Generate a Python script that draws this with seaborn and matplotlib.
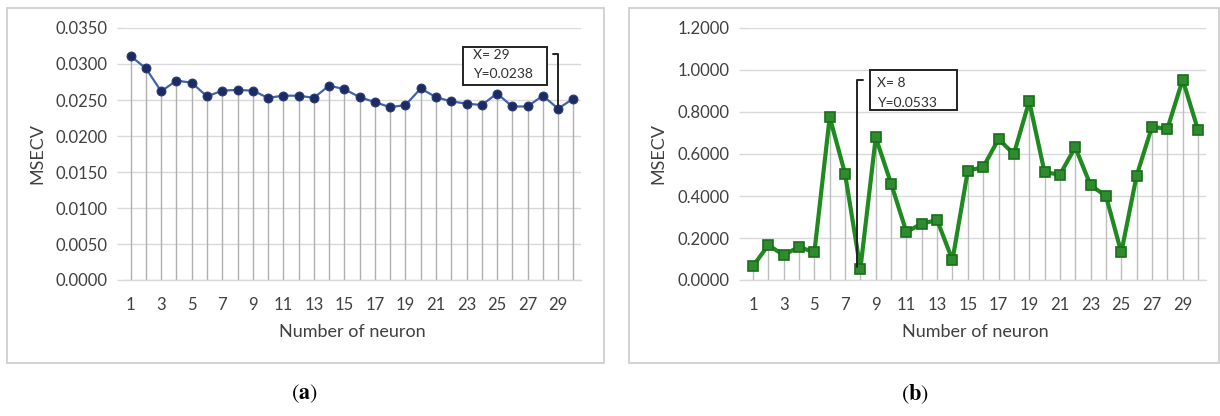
import numpy as np
import pandas as pd
import matplotlib
matplotlib.use("Agg")
import matplotlib.pyplot as plt
from matplotlib.patches import Rectangle
from matplotlib.ticker import FormatStrFormatter, MultipleLocator
import seaborn as sns

# Number of hidden neurons tested
neurons = list(range(1, 31))

# Cross-validated mean squared error, first network
msecv_a = [0.0311, 0.0294, 0.0262, 0.0277, 0.0274, 0.0255, 0.0263, 0.0264, 0.0263, 0.0253,
           0.0256, 0.0256, 0.0253, 0.0270, 0.0265, 0.0254, 0.0247, 0.0240, 0.0243, 0.0266,
           0.0254, 0.0248, 0.0245, 0.0243, 0.0259, 0.0241, 0.0241, 0.0256, 0.0238, 0.0252]

# Cross-validated mean squared error, second network
msecv_b = [0.066, 0.166, 0.119, 0.158, 0.131, 0.776, 0.506, 0.0533, 0.679, 0.459,
           0.228, 0.269, 0.285, 0.095, 0.521, 0.537, 0.671, 0.600, 0.851, 0.513,
           0.502, 0.632, 0.451, 0.400, 0.131, 0.497, 0.730, 0.719, 0.954, 0.714]

xtick_labels = [str(n) for n in range(1, 31, 2)]

# Best configuration highlighted in each panel
best_a = (29, 0.0238)
best_b = (8, 0.0533)

sns.set_theme(style="white")
plt.rcParams["font.family"] = ["Lato", "DejaVu Sans"]
plt.rcParams["mathtext.fontset"] = "stix"

W, H = 1220, 416
fig = plt.figure(figsize=(W / 100, H / 100), dpi=100)
fig.patch.set_facecolor("white")

TXT = "#404040"
GRID = "#D9D9D9"


def px_axes(x0, x1, y_top, y_bot):
    return fig.add_axes([x0 / W, 1 - y_bot / H, (x1 - x0) / W, (y_bot - y_top) / H])


def frame(x0, x1, y0, y1):
    fig.add_artist(Rectangle((x0 / W, 1 - y1 / H), (x1 - x0) / W, (y1 - y0) / H,
                             transform=fig.transFigure, fill=False,
                             edgecolor="#CFCFCF", linewidth=1.3))


def style_axes(ax, ymax, ystep, ylabel_pad):
    ax.set_xlim(0.5, 30.5)
    ax.set_ylim(0, ymax)
    ax.yaxis.set_major_locator(MultipleLocator(ystep))
    ax.yaxis.set_major_formatter(FormatStrFormatter("%.4f"))
    ax.set_xticks(range(1, 31, 2))
    ax.set_xticklabels(xtick_labels)
    ax.grid(axis="y", color=GRID, linewidth=1.0)
    ax.grid(axis="x", visible=False)
    ax.set_axisbelow(True)
    for s in ["top", "right", "left"]:
        ax.spines[s].set_visible(False)
    ax.spines["bottom"].set_color(GRID)
    ax.spines["bottom"].set_linewidth(1.0)
    ax.tick_params(axis="y", length=4, color=GRID, width=1.0, pad=7.5,
                   labelsize=12, labelcolor=TXT, left=True)
    ax.tick_params(axis="x", length=0, pad=12.5, labelsize=12, labelcolor=TXT)
    ax.set_xlabel("Number of neuron", fontsize=13, color=TXT, labelpad=8)
    ax.set_ylabel("MSECV", fontsize=13, color=TXT, labelpad=ylabel_pad)
    ax.set_facecolor("white")


# ---------------- panel (a) ----------------
frame(7, 604, 8, 363)
ax1 = px_axes(123, 581, 28, 280)
ax1.vlines(neurons, 0, msecv_a, color="#B0B0B0", linewidth=1.0, zorder=1)
sns.lineplot(x=neurons, y=msecv_a, ax=ax1, color="#3F63AE", linewidth=1.6,
             marker="o", markersize=6.4, markerfacecolor="#1C2C63",
             markeredgecolor="#2A3C78", zorder=3)
style_axes(ax1, 0.035, 0.005, 7)

ax1.add_patch(Rectangle((0.742, 0.774), 0.184, 0.151, transform=ax1.transAxes,
                        facecolor="white", edgecolor="#222222", linewidth=1.4, zorder=5))
ax1.text(0.764, 0.891, f"X= {best_a[0]}", transform=ax1.transAxes, fontsize=10,
         color="#303030", va="center", ha="left", zorder=6)
ax1.text(0.764, 0.816, f"Y={best_a[1]:.4f}", transform=ax1.transAxes, fontsize=10,
         color="#303030", va="center", ha="left", zorder=6)
ax1.plot([best_a[0] - 0.35, best_a[0], best_a[0]],
         [0.03139, 0.03139, best_a[1] + 0.0005],
         color="#222222", linewidth=1.4, zorder=4)

# ---------------- panel (b) ----------------
frame(629, 1219, 8, 363)
ax2 = px_axes(745.3, 1205.7, 28, 280)
ax2.vlines(neurons, 0, msecv_b, color="#BDBDBD", linewidth=1.0, zorder=1)
sns.lineplot(x=neurons, y=msecv_b, ax=ax2, color="#1F8A1F", linewidth=3.0,
             marker="s", markersize=6.5, markerfacecolor="#2E8B2E",
             markeredgecolor="#1A6E1A", markeredgewidth=1.2, zorder=3)
style_axes(ax2, 1.2, 0.2, 8)

ax2.add_patch(Rectangle((0.271, 0.675), 0.189, 0.158, transform=ax2.transAxes,
                        facecolor="white", edgecolor="#222222", linewidth=1.4, zorder=5))
ax2.text(0.286, 0.781, f"X= {best_b[0]}", transform=ax2.transAxes, fontsize=10,
         color="#303030", va="center", ha="left", zorder=6)
ax2.text(0.286, 0.703, f"Y={best_b[1]:.4f}", transform=ax2.transAxes, fontsize=10,
         color="#303030", va="center", ha="left", zorder=6)
x_lead = best_b[0] - 0.22
ax2.plot([x_lead + 0.4, x_lead, x_lead],
         [0.952, 0.952, best_b[1] + 0.01],
         color="#222222", linewidth=1.4, zorder=4)

# ---------------- sub-figure labels ----------------
fig.text(304 / W, 1 - 394 / H, r"$(\mathbf{a})$", fontsize=16, ha="center",
         va="center", color="black")
fig.text(915 / W, 1 - 394 / H, r"$(\mathbf{b})$", fontsize=16, ha="center",
         va="center", color="black")

fig.savefig("out.png", dpi=100, facecolor="white")
